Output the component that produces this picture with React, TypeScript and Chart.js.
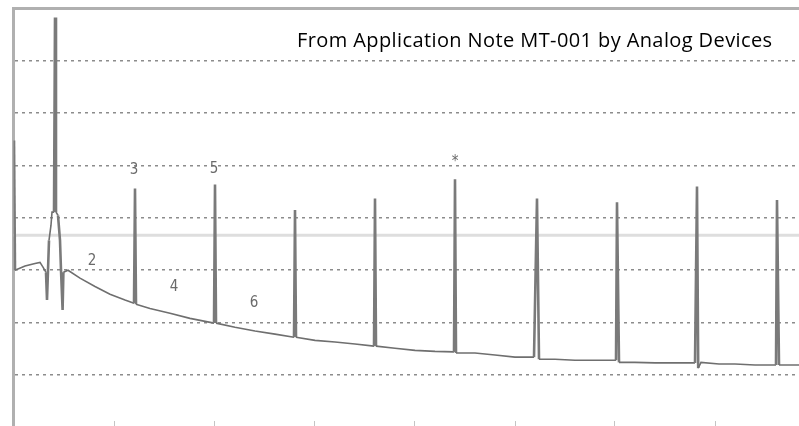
import React, { useEffect, useRef } from "react";
import { Chart, registerables } from "chart.js";

Chart.register(...registerables);

// Frequency in units of the fundamental (harmonic number)
const traceX = [
  -0.025, 0.0, 0.25, 0.5, 0.625, 0.7, 0.775, 0.8, 0.825, 0.85, 0.9, 0.925, 0.975,
  1.0, 1.025, 1.075, 1.125, 1.15, 1.19, 1.21, 1.325, 1.625, 2.0, 2.375, 2.75, 2.975,
  3.0, 3.025, 3.375, 3.875, 4.375, 4.975,
  5.0, 5.025, 5.5, 6.0, 6.5, 6.975,
  7.0, 7.025, 7.5, 8.0, 8.5, 8.975,
  9.0, 9.025, 9.5, 10.0, 10.5, 10.975,
  11.0, 11.025, 11.5, 12.0, 12.5, 12.975,
  13.05, 13.1, 13.5, 14.0, 14.5, 15.025,
  15.05, 15.1, 15.5, 16.0, 16.5, 17.0,
  17.05, 17.08, 17.15, 17.6, 18.0, 18.5, 19.025,
  19.05, 19.1, 19.6,
];
// Level in dB
const traceDb = [
  -25.2, -50.0, -49.2, -48.7, -48.5, -49.4, -50.4, -55.7, -50.0, -44.3, -41.4, -38.9, -38.9,
  -1.7, -38.9, -39.5, -44.3, -50.0, -57.6, -50.4, -50.0, -51.5, -53.1, -54.6, -55.7, -56.3,
  -34.4, -56.5, -57.3, -58.2, -59.2, -60.1,
  -33.6, -60.1, -60.9, -61.6, -62.2, -62.8,
  -38.5, -62.8, -63.4, -63.7, -64.1, -64.5,
  -36.3, -64.5, -64.9, -65.3, -65.5, -65.6,
  -32.6, -65.8, -65.8, -66.2, -66.6, -66.6,
  -36.3, -67.0, -67.0, -67.2, -67.2, -67.2,
  -37.0, -67.6, -67.6, -67.7, -67.7, -67.7,
  -34.0, -68.7, -67.6, -67.9, -67.9, -68.1, -68.1,
  -36.6, -68.1, -68.1,
];

const refLevelDb = -43.3;

const harmonicLabels = ["2", "3", "4", "5", "6", "*"];
const harmonicLabelX = [1.925, 2.975, 3.975, 4.975, 5.975, 11.0];
const harmonicLabelDb = [-48.3, -30.9, -53.2, -30.7, -56.3, -29.4];

const xMin = -0.0375;
const xMax = 19.6;
const yMin = -78.8;
const yMax = 0;

const labelPlugin = {
  id: "harmonicLabels",
  afterDatasetsDraw(chart: any) {
    const { ctx, scales } = chart;
    ctx.save();
    ctx.fillStyle = "#6a6a6a";
    ctx.font = '15px "Liberation Sans Narrow", "DejaVu Sans Condensed", sans-serif';
    ctx.textAlign = "center";
    ctx.textBaseline = "middle";
    harmonicLabels.forEach((t, i) => {
      const px = scales.x.getPixelForValue(harmonicLabelX[i]);
      const py = scales.y.getPixelForValue(harmonicLabelDb[i]);
      ctx.fillText(t, px, py);
    });
    ctx.restore();
  },
};

export default function App() {
  const ref = useRef<HTMLCanvasElement>(null);
  useEffect(() => {
    if (!ref.current) return;
    const chart = new Chart(ref.current, {
      type: "line",
      data: {
        datasets: [
          {
            data: traceX.map((x, i) => ({ x, y: traceDb[i] })),
            borderColor: "#6f6f6f",
            borderWidth: 1.6,
            pointRadius: 0,
            tension: 0,
            order: 1,
            segment: {
              borderWidth: (c: any) =>
                Math.abs(c.p0.y - c.p1.y) > 20 ? 2.6 : 1.6,
              borderColor: (c: any) =>
                Math.abs(c.p0.y - c.p1.y) > 20 ? "#7a7a7a" : "#6f6f6f",
            },
          },
          {
            data: [
              { x: xMin, y: refLevelDb },
              { x: xMax, y: refLevelDb },
            ],
            borderColor: "#dedede",
            borderWidth: 3,
            pointRadius: 0,
            order: 2,
          },
          {
            data: [
              { x: xMin, y: yMax },
              { x: xMax, y: yMax },
            ],
            borderColor: "#b0b0b0",
            borderWidth: 3,
            pointRadius: 0,
            clip: false,
            order: 3,
          },
        ],
      },
      options: {
        animation: false,
        responsive: false,
        layout: { padding: { left: 13.5, top: 8.5, right: 0, bottom: 0 } },
        plugins: { legend: { display: false }, tooltip: { enabled: false } },
        scales: {
          x: {
            type: "linear",
            min: xMin,
            max: xMax,
            ticks: { display: false, stepSize: 2.5 },
            grid: {
              drawOnChartArea: false,
              drawTicks: true,
              tickLength: 5,
              tickWidth: (c: any) => (c.index === 0 ? 3 : 1),
              tickColor: (c: any) => {
                const v = c.tick?.value;
                if (c.index === 0) return "#b0b0b0";
                if (v === 0 || v === xMax) return "rgba(0,0,0,0)";
                return "#c4c4c4";
              },
            },
            border: { display: false },
          },
          y: {
            type: "linear",
            min: yMin,
            max: yMax,
            ticks: { display: false, stepSize: 10 },
            grid: {
              drawTicks: false,
              lineWidth: 1.6,
              color: (c: any) => {
                const v = c.tick?.value;
                if (v === yMax || v === yMin) return "rgba(0,0,0,0)";
                return "#8c8c8c";
              },
            },
            border: { display: true, color: "#b0b0b0", width: 3, dash: [3, 4] },
          },
        },
      },
      plugins: [labelPlugin],
    });
    return () => chart.destroy();
  }, []);

  return (
    <div
      style={{
        position: "fixed",
        left: 0,
        top: 0,
        width: 799,
        height: 426,
        background: "#fff",
      }}
    >
      <canvas ref={ref} width={799} height={426} style={{ width: 799, height: 426, display: "block" }} />
      <div
        style={{
          position: "absolute",
          left: 12,
          top: 7,
          width: 787,
          height: 0,
          borderTop: "3px solid #b0b0b0",
        }}
      />
      <div
        style={{
          position: "absolute",
          left: 297,
          top: 29,
          fontFamily: '"Open Sans", sans-serif',
          fontSize: 20,
          letterSpacing: "0.4px",
          lineHeight: "22px",
          color: "#000",
          whiteSpace: "nowrap",
        }}
      >
        From Application Note MT-001 by Analog Devices
      </div>
    </div>
  );
}
